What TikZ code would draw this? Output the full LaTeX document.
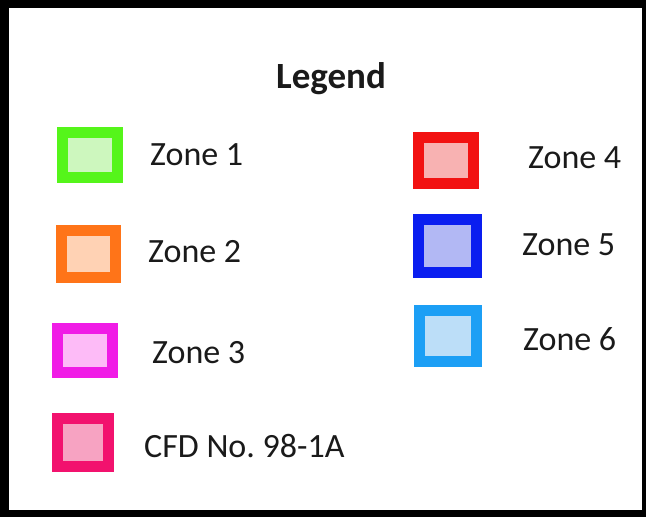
\documentclass[tikz,border=0pt]{standalone}
\usepackage{fontspec}
\setmainfont{Carlito}
\frenchspacing
\definecolor{z1b}{HTML}{55F51A}\definecolor{z1f}{HTML}{CDF7BE}
\definecolor{z2b}{HTML}{FF7418}\definecolor{z2f}{HTML}{FFD2B4}
\definecolor{z3b}{HTML}{F01CE6}\definecolor{z3f}{HTML}{FDBBF7}
\definecolor{cfdb}{HTML}{F2126E}\definecolor{cfdf}{HTML}{F7A3C2}
\definecolor{z4b}{HTML}{F21212}\definecolor{z4f}{HTML}{F8B2B2}
\definecolor{z5b}{HTML}{0A1EF0}\definecolor{z5f}{HTML}{B2B8F4}
\definecolor{z6b}{HTML}{1C9FF5}\definecolor{z6f}{HTML}{BCDEF8}
\definecolor{txt}{HTML}{1A1A1A}
\tikzset{
  zonebox/.style={draw, line width=11pt, inner sep=0pt, rectangle},
  lbl/.style={anchor=base west, inner sep=0pt, text=txt, font=\fontsize{34}{40}\selectfont},
  ttl/.style={anchor=base west, inner sep=0pt, text=txt, font=\fontsize{37}{44}\selectfont\bfseries}
}
\begin{document}
\begin{tikzpicture}[x=1pt,y=-1pt]
\useasboundingbox (0,0) rectangle (646,517);
\fill[black] (0,0) rectangle (646,517);
\fill[white] (9,8) rectangle (642,510);
\node[ttl] (legend) at (276,88) {Legend};
\node[zonebox, draw=z1b, fill=z1f, minimum width=55pt, minimum height=45pt] (b1) at (90,155) {};
\node[zonebox, draw=z2b, fill=z2f, minimum width=54pt, minimum height=47pt] (b2) at (88.5,254) {};
\node[zonebox, draw=z3b, fill=z3f, minimum width=55pt, minimum height=44pt] (b3) at (85,350.5) {};
\node[zonebox, draw=cfdb, fill=cfdf, minimum width=51pt, minimum height=48pt] (bc) at (83,442.5) {};
\node[zonebox, draw=z4b, fill=z4f, minimum width=55pt, minimum height=46pt] (b4) at (446,160.5) {};
\node[zonebox, draw=z5b, fill=z5f, minimum width=58pt, minimum height=53pt] (b5) at (447.5,246) {};
\node[zonebox, draw=z6b, fill=z6f, minimum width=57pt, minimum height=51pt] (b6) at (448,336) {};
\node[lbl] (t1) at (150,165) {Zone 1};
\node[lbl] (t2) at (148,262) {Zone 2};
\node[lbl] (t3) at (152,363) {Zone 3};
\node[lbl] (tc) at (144,457) {CFD No.\ 98-1A};
\node[lbl] (t4) at (528,168) {Zone 4};
\node[lbl] (t5) at (522,255) {Zone 5};
\node[lbl] (t6) at (523,350) {Zone 6};
\end{tikzpicture}
\end{document}
